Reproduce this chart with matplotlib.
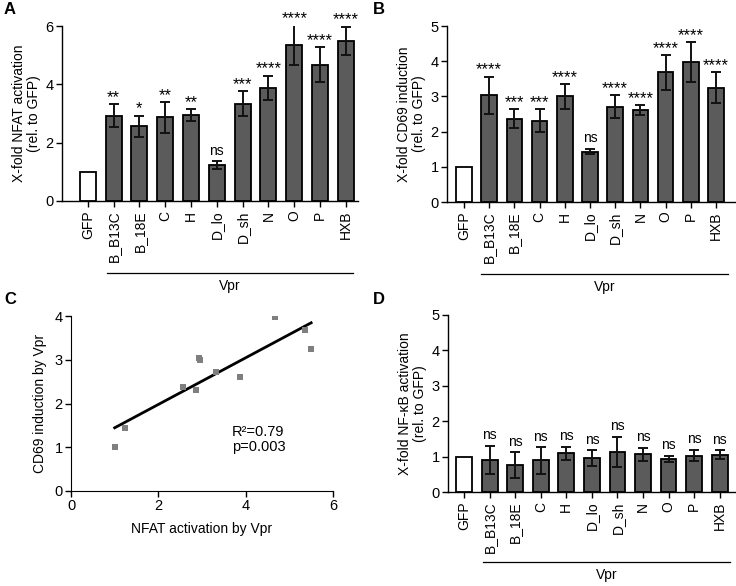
import numpy as np
import matplotlib
matplotlib.use("Agg")
import matplotlib.pyplot as plt

plt.rcParams['font.family'] = ['Liberation Sans', 'DejaVu Sans']

categories = ["GFP", "B_B13C", "B_18E", "C", "H", "D_lo", "D_sh", "N", "O", "P", "HXB"]

nfat_mean = [1.0, 2.92, 2.57, 2.87, 2.95, 1.23, 3.33, 3.88, 5.35, 4.67, 5.50]
nfat_err = [0.0, 0.39, 0.36, 0.53, 0.19, 0.13, 0.43, 0.42, 0.69, 0.60, 0.48]
nfat_sig = ["", "**", "*", "**", "**", "ns", "***", "****", "****", "****", "****"]

cd69_mean = [1.0, 3.03, 2.37, 2.31, 3.00, 1.43, 2.71, 2.61, 3.68, 3.98, 3.25]
cd69_err = [0.0, 0.53, 0.27, 0.33, 0.35, 0.08, 0.32, 0.15, 0.49, 0.57, 0.45]
cd69_sig = ["", "****", "***", "***", "****", "ns", "****", "****", "****", "****", "****"]

nfkb_mean = [1.0, 0.91, 0.76, 0.89, 1.09, 0.96, 1.13, 1.06, 0.94, 1.03, 1.05]
nfkb_err = [0.0, 0.39, 0.36, 0.38, 0.19, 0.22, 0.43, 0.19, 0.09, 0.16, 0.13]
nfkb_sig = ["", "ns", "ns", "ns", "ns", "ns", "ns", "ns", "ns", "ns", "ns"]

stats_text = "R²=0.79\np=0.003"

W, H = 736, 586
fig = plt.figure(figsize=(W / 100, H / 100), dpi=100)


def ax_px(left, right, top, bottom):
    return fig.add_axes([left / W, 1 - bottom / H, (right - left) / W, (bottom - top) / H])


BAR_FILL = "#5b5b5b"


def bar_panel(ax, means, errs, sigs, ylim, yticks, ylabel, xlim, vpr_y, vpr_x):
    x = np.arange(len(categories))
    colors = ["white"] + [BAR_FILL] * (len(categories) - 1)
    ax.bar(x, means, width=0.62, color=colors, edgecolor="black", linewidth=1.3, zorder=2)
    ax.errorbar(x[1:], means[1:], yerr=errs[1:], fmt="none", ecolor="#111111",
                elinewidth=1.4, capsize=3.5, capthick=1.4, zorder=3)
    span = ylim[1] - ylim[0]
    for xi, m, e, s in zip(x, means, errs, sigs):
        if s:
            if s == "ns":
                ax.text(xi, m + e + span * 0.02, s, ha="center", va="bottom", fontsize=10,
                        clip_on=False)
            else:
                ax.text(xi, m + e - span * 0.005, s, ha="center", va="bottom", fontsize=12,
                        clip_on=False)
    ax.set_ylim(*ylim)
    ax.set_yticks(yticks)
    ax.set_xlim(*xlim)
    ax.set_xticks(x)
    ax.set_xticklabels(categories, rotation=90, fontsize=10)
    ax.tick_params(axis="y", labelsize=10.5, length=4, width=1, pad=2)
    ax.tick_params(axis="x", length=4, width=1, pad=3)
    for sp in ["top", "right"]:
        ax.spines[sp].set_visible(False)
    for sp in ["left", "bottom"]:
        ax.spines[sp].set_linewidth(1.0)
    ax.set_ylabel(ylabel, fontsize=10, labelpad=3, linespacing=1.1)
    x0, x1 = vpr_x
    fig.add_artist(plt.Line2D([x0 / W, x1 / W], [1 - vpr_y / H, 1 - vpr_y / H],
                              color="black", linewidth=0.9))
    fig.text((x0 + x1) / 2 / W, 1 - (vpr_y + 6) / H, "Vpr", ha="center", va="top", fontsize=10)


axA = ax_px(62, 358, 26, 201)
bar_panel(axA, nfat_mean, nfat_err, nfat_sig, (0, 6), [0, 2, 4, 6],
          "X-fold NFAT activation\n(rel. to GFP)", (-1.0, 10.47), 273, (107, 353))

axB = ax_px(447, 735, 26, 202)
bar_panel(axB, cd69_mean, cd69_err, cd69_sig, (0, 5), [0, 1, 2, 3, 4, 5],
          "X-fold CD69 induction\n(rel. to GFP)", (-0.67, 10.75), 274, (481, 728))

axD = ax_px(448, 735, 315, 492)
bar_panel(axD, nfkb_mean, nfkb_err, nfkb_sig, (0, 5), [0, 1, 2, 3, 4, 5],
          "X-fold NF-κB activation\n(rel. to GFP)", (-0.63, 10.6), 562, (483, 730))

# Panel C scatter
axC = ax_px(71, 333, 316, 491)
xs = np.array(nfat_mean)
ys = np.array(cd69_mean)
axC.scatter(xs, ys, marker="s", s=22, color="#7f7f7f", linewidths=0, zorder=3)
slope, intercept = np.polyfit(xs, ys, 1)
xl = np.array([xs.min(), xs.max()])
axC.plot(xl, slope * xl + intercept, color="black", linewidth=2, zorder=2)
axC.set_xlim(0, 6)
axC.set_ylim(0, 4)
axC.set_xticks([0, 2, 4, 6])
axC.set_yticks([0, 1, 2, 3, 4])
axC.tick_params(labelsize=10.5, length=4, width=1, pad=2)
for sp in ["top", "right"]:
    axC.spines[sp].set_visible(False)
axC.set_xlabel("NFAT activation by Vpr", fontsize=10, labelpad=6)
axC.set_ylabel("CD69 induction by Vpr", fontsize=10, labelpad=5)
axC.text(3.69, 1.5, stats_text, ha="left", va="top", fontsize=10.5, linespacing=1.1)

# Panel letters
for lbl, (px, py) in zip("ABCD", [(4, 2), (373, 2), (4, 292), (373, 292)]):
    fig.text(px / W, 1 - py / H, lbl, fontsize=12, fontweight="bold", ha="left", va="top")

fig.savefig("out.png", dpi=100)
